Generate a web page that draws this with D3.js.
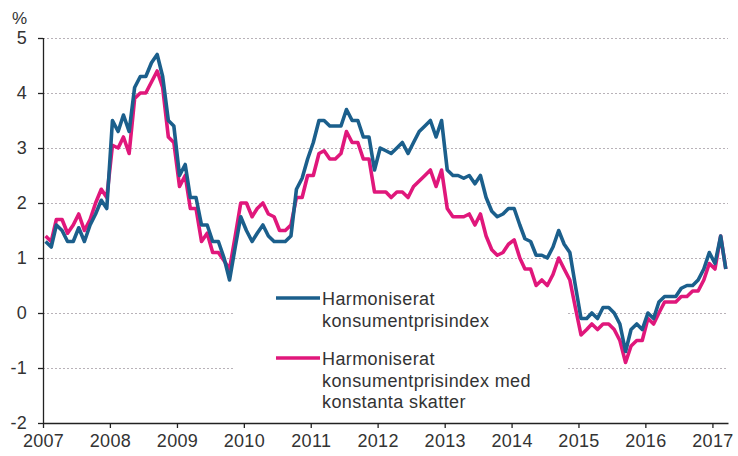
<!DOCTYPE html>
<html>
<head>
<meta charset="utf-8">
<script src="https://cdn.jsdelivr.net/npm/d3@7/dist/d3.min.js"></script>
<style>
    body { margin: 0; background: #fff; }
    text { font-family: Arial, "Liberation Sans", sans-serif; fill: #333; }
</style>
</head>
<body>
<div id="chart"></div>
<script>
// monthly values from Jan 2007, annual change in %
var hicp = [
    1.3, 1.2, 1.6, 1.5, 1.3, 1.3, 1.55, 1.3, 1.6, 1.8, 2.05, 1.9,
    3.5, 3.3, 3.6, 3.3, 4.1, 4.3, 4.3, 4.55, 4.7, 4.3, 3.5, 3.4,
    2.5, 2.7, 2.1, 2.1, 1.6, 1.6, 1.3, 1.3, 1.0, 0.6, 1.2, 1.75,
    1.5, 1.3, 1.45, 1.6, 1.4, 1.3, 1.3, 1.3, 1.4, 2.25, 2.45, 2.8,
    3.1, 3.5, 3.5, 3.4, 3.4, 3.4, 3.7, 3.5, 3.5, 3.2, 3.2, 2.6,
    3.0, 2.95, 2.9, 3.0, 3.1, 2.9, 3.1, 3.3, 3.4, 3.5, 3.2, 3.5,
    2.6, 2.5, 2.5, 2.45, 2.5, 2.35, 2.5, 2.1, 1.85, 1.75, 1.8, 1.9,
    1.9, 1.6, 1.35, 1.3, 1.05, 1.05, 1.0, 1.2, 1.5, 1.25, 1.1, 0.5,
    -0.1, -0.1, 0.0, -0.1, 0.1, 0.1, 0.0, -0.2, -0.7, -0.3, -0.2, -0.3,
    0.0, -0.1, 0.2, 0.3, 0.3, 0.3, 0.45, 0.5, 0.5, 0.6, 0.8, 1.1,
    0.9, 1.4, 0.8
];
var hicpConstTax = [
    1.4, 1.3, 1.7, 1.7, 1.45, 1.6, 1.8, 1.5, 1.7, 2.0, 2.25, 2.1,
    3.05, 3.0, 3.2, 2.9, 3.9, 4.0, 4.0, 4.2, 4.4, 4.1, 3.2, 3.1,
    2.3, 2.5, 1.9, 1.9, 1.3, 1.45, 1.1, 1.1, 0.95, 0.8, 1.4, 2.0,
    2.0, 1.75, 1.9, 2.0, 1.8, 1.75, 1.5, 1.5, 1.6, 2.1, 2.1, 2.5,
    2.5, 2.9, 2.95, 2.8, 2.8, 2.9, 3.3, 3.1, 3.1, 2.8, 2.8, 2.2,
    2.2, 2.2, 2.1, 2.2, 2.2, 2.1, 2.3, 2.4, 2.5, 2.6, 2.3, 2.6,
    1.9, 1.75, 1.75, 1.75, 1.8, 1.6, 1.8, 1.4, 1.15, 1.05, 1.1, 1.25,
    1.33, 1.0, 0.8, 0.8, 0.5, 0.6, 0.5, 0.7, 1.0, 0.8, 0.6, 0.1,
    -0.4, -0.3, -0.2, -0.3, -0.2, -0.2, -0.3, -0.5, -0.9, -0.6, -0.5, -0.5,
    -0.1, -0.2, 0.0, 0.2, 0.2, 0.2, 0.3, 0.3, 0.4, 0.4, 0.6, 0.9,
    0.8, 1.4, 0.8
];
var yearTicks = [2007, 2008, 2009, 2010, 2011, 2012, 2013, 2014, 2015, 2016, 2017];
var yTicks = [-2, -1, 0, 1, 2, 3, 4, 5];
var unitLabel = "%";
var legendLabels = [
    ["Harmoniserat", "konsumentprisindex"],
    ["Harmoniserat", "konsumentprisindex med", "konstanta skatter"]
];

var colors = ["#1b5f8c", "#e0177b"];

var width = 738, height = 456;
var plotLeft = 43, plotRight = 728, plotTop = 38, plotBottom = 423;

var svg = d3.select("#chart").append("svg")
    .attr("width", width)
    .attr("height", height);

var x = d3.scaleTime()
    .domain([new Date(2007, 0, 1), new Date(2017, 2, 27)])
    .range([plotLeft, plotRight]);

var y = d3.scaleLinear()
    .domain([-2, 5])
    .range([plotBottom, plotTop]);

function toPoints(values)
{
    return values.map(function(v, i) { return { date: new Date(2007, i, 15), value: v }; });
}

// gridlines (the 0 and -1 lines are broken behind the legend)
var gridGaps = { "0": true, "-1": true };
var gridSegs = [];
yTicks.forEach(function(t) {
    if (t == -2) return;
    if (gridGaps[t])
    {
        gridSegs.push({ v: t, x1: plotLeft, x2: 233 });
        gridSegs.push({ v: t, x1: 568, x2: plotRight });
    }
    else
    {
        gridSegs.push({ v: t, x1: plotLeft, x2: plotRight });
    }
});

svg.append("g").selectAll("line")
    .data(gridSegs)
    .enter().append("line")
    .attr("x1", function(d) { return d.x1; })
    .attr("x2", function(d) { return d.x2; })
    .attr("y1", function(d) { return Math.round(y(d.v)) + 0.5; })
    .attr("y2", function(d) { return Math.round(y(d.v)) + 0.5; })
    .style("stroke", "#b8b2b8")
    .style("stroke-width", 1)
    .style("stroke-dasharray", "2,2");

// axes
var yAxis = d3.axisLeft(y)
    .tickValues(yTicks)
    .tickSize(5)
    .tickPadding(11)
    .tickFormat(function(d) { return String(d); });

var gy = svg.append("g")
    .attr("transform", "translate(" + plotLeft + ",0)")
    .call(yAxis);

var xAxis = d3.axisBottom(x)
    .tickValues(yearTicks.map(function(yr) { return new Date(yr, 0, 1); }))
    .tickSize(5)
    .tickPadding(6)
    .tickSizeOuter(0)
    .tickFormat(d3.timeFormat("%Y"));

var gx = svg.append("g")
    .attr("transform", "translate(0," + plotBottom + ")")
    .call(xAxis);

[gx, gy].forEach(function(g) {
    g.select(".domain").style("stroke", "#222").style("stroke-width", 1.3);
    g.selectAll(".tick line").style("stroke", "#222").style("stroke-width", 1.3);
    g.selectAll(".tick text")
        .style("font-family", "Arial, 'Liberation Sans', sans-serif")
        .style("font-size", "18px")
        .style("letter-spacing", "0.3px")
        .style("fill", "#333");
});
gy.select(".domain").attr("d", "M0.5," + plotTop + "V" + plotBottom);

svg.append("text")
    .attr("x", 12)
    .attr("y", 24)
    .style("font-size", "17px")
    .text(unitLabel);

// lines
var line = d3.line()
    .x(function(d) { return x(d.date); })
    .y(function(d) { return y(d.value); });

var series = [hicp, hicpConstTax];

svg.append("g").selectAll("path")
    .data(series.slice().reverse())
    .enter().append("path")
    .attr("d", function(d) { return line(toPoints(d)); })
    .style("fill", "none")
    .style("stroke", function(d, i) { return colors[series.length - 1 - i]; })
    .style("stroke-width", 3.6)
    .style("stroke-linejoin", "round");

// legend
var legendY = [298, 358];
var legend = svg.append("g").selectAll("g")
    .data(legendLabels)
    .enter().append("g")
    .attr("transform", function(d, i) { return "translate(276," + legendY[i] + ")"; });

legend.append("line")
    .attr("x1", 0)
    .attr("x2", 44)
    .style("stroke", function(d, i) { return colors[i]; })
    .style("stroke-width", 3.6);

legend.selectAll("text")
    .data(function(d) { return d; })
    .enter().append("text")
    .attr("x", 46)
    .attr("y", function(d, i) { return 7 + i * 21.5; })
    .style("font-size", "18px")
    .style("letter-spacing", "0.4px")
    .text(function(d) { return d; });
</script>
</body>
</html>
